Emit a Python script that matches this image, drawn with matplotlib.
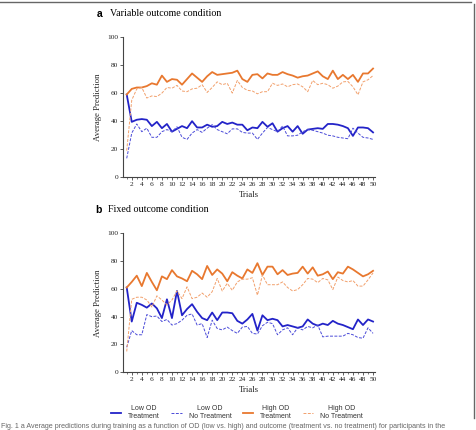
import numpy as np
import matplotlib
matplotlib.use("Agg")
import matplotlib.pyplot as plt
from matplotlib.lines import Line2D

trials = np.arange(1, 51)

# a: variable outcome condition
a_low_treat = [59, 39.5, 41, 41.5, 41, 36.5, 39.5, 35, 38, 32.5,
               34.5, 36.5, 35, 40, 35.5, 35.5, 37.5, 36, 36.5, 39.5,
               38, 39, 37.5, 37.5, 33.5, 35.5, 35, 39.5, 36, 38.5,
               32.5, 35, 36.5, 32.5, 36.5, 31, 34, 34.5, 35, 34.5,
               38, 38, 37.5, 36.5, 35, 29.5, 35.5, 35.5, 35, 32]
a_low_none = [13.5, 31.5, 38, 32.5, 35, 28.5, 28.5, 32.5, 34, 32.5,
              36, 28.5, 27, 31.5, 34, 32, 35, 37.5, 34, 32.5,
              31, 34.5, 34.5, 32, 31.5, 31.5, 27, 31.5, 35.5, 34,
              32.5, 36.5, 29.5, 29.5, 30, 32.5, 34, 33.5, 32.5, 31.5,
              30, 29.5, 28.5, 28, 27.5, 35, 31.5, 28.5, 28, 27]
a_high_treat = [59, 63, 64, 64, 65, 67, 66, 72.5, 68, 70,
                69.5, 66, 70, 74, 71, 68, 72, 75, 73, 73.5,
                74, 74.5, 76, 70, 68, 73, 73.5, 70.5, 74, 73,
                73, 75, 73.5, 72.5, 71, 72, 72.5, 74, 75.5, 72,
                70, 76, 70, 73, 70, 73, 68, 74, 74, 77.5]
a_high_none = [19, 55, 63, 64, 56.5, 58, 57.5, 60, 64, 63.5,
               65.5, 61.5, 61, 63, 63.5, 66, 60.5, 64, 68, 66,
               67, 60, 69, 64, 62, 61.5, 59.5, 61, 61, 67,
               65.5, 66.5, 64.5, 66, 66.5, 64.5, 61, 69, 66, 67,
               66, 63.5, 65, 68, 68.3, 64.5, 58.8, 68, 69.5, 72.5]

# b: fixed outcome condition
b_low_treat = [61, 36.5, 50, 48.5, 46.5, 49.5, 46, 39, 52.5, 39,
               58.5, 41, 45.5, 49, 43.5, 39, 37.5, 43, 37.5, 43,
               43, 42.5, 37, 35, 38, 42, 30, 41, 37.5, 38.5,
               37.5, 33, 34, 33, 32, 33, 38, 35, 33.5, 35,
               34, 37, 35, 34, 32.5, 31, 38, 34, 38, 36.5]
b_low_none = [18, 30, 27, 27, 41.5, 40, 40.5, 36.5, 38, 34,
              35, 37.5, 41, 42, 34, 35, 25, 37.5, 31.5, 30.5,
              32.5, 30, 28, 32.5, 33, 28, 27.5, 33.5, 36, 35,
              27, 30.5, 32, 27, 32, 30.5, 33, 32, 34, 25.5,
              26, 26, 26, 26, 28, 27, 25, 24.5, 32, 28]
b_high_treat = [61, 65, 69.5, 62, 71.5, 65, 59, 69, 67, 73.5,
                69, 67.5, 65.5, 73, 70.5, 67, 76.5, 70, 74, 71,
                65.5, 72, 69.5, 67.5, 74, 71.5, 78.5, 70, 76, 76,
                70.5, 73.5, 70, 71, 71.5, 76, 71, 75.5, 69.5, 70.5,
                72.5, 67, 72, 71, 76, 74, 71.5, 69, 70.5, 73]
b_high_none = [15, 52.5, 54, 54, 52, 47, 55, 52, 48.5, 52,
               58.5, 53, 61.5, 53, 54, 57, 54, 58, 67.5, 58.5,
               64, 59, 65, 67, 67, 68, 55.5, 70, 63, 63,
               63, 65, 61, 58.5, 59.5, 63, 67.5, 67, 64.5, 67.5,
               66.5, 59.5, 68.5, 66, 65, 66, 62, 62, 66.5, 71.5]

labels = ["Low OD\nTreatment", "Low OD\nNo Treatment",
          "High OD\nTreatment", "High OD\nNo Treatment"]
blue = "#2323c8"
blue_l = "#4a4ad8"
orange = "#e8782f"
orange_l = "#f2a06c"
serif = "Liberation Serif"
sans = "Liberation Sans"

fig = plt.figure(figsize=(4.76, 4.30), dpi=100)


def panel(rect, low_t, low_n, high_t, high_n):
    ax = fig.add_axes(rect)
    ax.plot(trials, low_t, color=blue, lw=1.3)
    ax.plot(trials, low_n, color=blue_l, lw=0.7, dashes=(3, 1.5))
    ax.plot(trials, high_t, color=orange, lw=1.3)
    ax.plot(trials, high_n, color=orange_l, lw=0.7, dashes=(3, 1.5))
    ax.set_xlim(0.26, 50.35)
    ax.set_ylim(0, 100)
    for s in ["top", "right"]:
        ax.spines[s].set_visible(False)
    for s in ["left", "bottom"]:
        ax.spines[s].set_color("#444444")
        ax.spines[s].set_linewidth(0.8)
    ax.set_xticks(np.arange(2, 51, 2))
    ax.set_xticks(np.arange(1, 51, 2), minor=True)
    ax.set_yticks(np.arange(0, 101, 20))
    ax.tick_params(axis="both", which="major", length=2, width=0.6,
                   color="#444444", labelsize=5.3, pad=1.5)
    ax.tick_params(axis="x", which="minor", length=1.5, width=0.5,
                   color="#444444")
    for t in ax.get_xticklabels() + ax.get_yticklabels():
        t.set_fontfamily(serif)
        t.set_color("#222222")
    ax.set_xlabel("Trials", fontfamily=serif, fontsize=6.3, labelpad=2.5,
                  color="#222222")
    ax.set_ylabel("Average Prediction", fontfamily=serif, fontsize=6.3,
                  labelpad=4, color="#222222")
    return ax


ax_a = panel([0.2584, 0.5877, 0.529, 0.3263],
             a_low_treat, a_low_none, a_high_treat, a_high_none)
ax_b = panel([0.2584, 0.1342, 0.529, 0.3233],
             b_low_treat, b_low_none, b_high_treat, b_high_none)

# panel titles
fig.text(97 / 476, 1 - 14 / 430, "a", fontfamily=sans, fontweight="bold",
         fontsize=7.5, va="center", ha="left")
fig.text(110 / 476, 1 - 14 / 430, "Variable outcome condition",
         fontfamily=serif, fontsize=7.2, va="center", ha="left")
fig.text(95 / 476, 1 - 210 / 430, "b", fontfamily=sans, fontweight="bold",
         fontsize=7.5, va="center", ha="left")
fig.text(108 / 476, 1 - 210 / 430, "Fixed outcome condition",
         fontfamily=serif, fontsize=7.2, va="center", ha="left")

# legend
handles = ax_b.get_lines()
leg = fig.legend(handles, labels, ncol=4, loc="center",
                 bbox_to_anchor=(237 / 476, 1 - 413 / 430),
                 frameon=False, handlelength=1.5, handletextpad=1.0,
                 columnspacing=1.6, prop={"family": sans, "size": 5})
for t in leg.get_texts():
    t.set_multialignment("center")
    t.set_color("#333333")

# caption
fig.text(0.002, 1 - 426.5 / 430,
         "Fig. 1 a Average predictions during training as a function of OD "
         "(low vs. high) and outcome (treatment vs. no treatment) for "
         "participants in the",
         fontfamily=sans, fontsize=5.1, color="#666666", va="center",
         ha="left")

# page frame
fig.add_artist(Line2D([0, 471 / 476], [1 - 1.5 / 430, 1 - 1.5 / 430],
                      transform=fig.transFigure, color="#666666", lw=1))
fig.add_artist(Line2D([474 / 476, 474 / 476], [1 - 4 / 430, 1 - 418 / 430],
                      transform=fig.transFigure, color="#666666", lw=1))

fig.savefig("out.png", dpi=100)
